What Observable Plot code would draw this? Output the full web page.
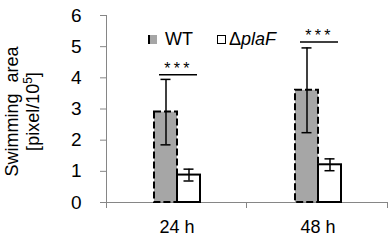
<!DOCTYPE html>
<html><head><meta charset="utf-8">
<script src="https://cdn.jsdelivr.net/npm/d3@7"></script>
<script src="https://cdn.jsdelivr.net/npm/@observablehq/plot@0.6"></script>
<style>
body{margin:0;background:#fff;font-family:"Liberation Sans",Arial,sans-serif;color:#000;}
#wrap{position:relative;width:392px;height:240px;overflow:hidden;}
#wrap svg{position:absolute;left:0;top:0;}
.leg{position:absolute;font-size:18px;line-height:18px;white-space:nowrap;}
.sw{position:absolute;box-sizing:border-box;}
</style></head><body>
<div id="wrap"></div>
<script>
const times = ["24 h", "48 h"];
const strains = ["WT", "ΔplaF"];
const wtMeans = [2.9, 3.6];
const wtErrors = [1.05, 1.36];
const plaFMeans = [0.88, 1.21];
const plaFErrors = [0.19, 0.19];
const sigLevels = [4.1, 5.15];
const sigLabels = ["***", "***"];
const yTicks = [0, 1, 2, 3, 4, 5, 6];

const rows = [];
times.forEach((t, i) => {
  rows.push({time: t, strain: strains[0], mean: wtMeans[i], err: wtErrors[i]});
  rows.push({time: t, strain: strains[1], mean: plaFMeans[i], err: plaFErrors[i]});
});
const sigRows = times.map((t, i) => ({time: t, level: sigLevels[i], label: sigLabels[i]}));
const wtRows = rows.filter(d => d.strain === strains[0]);
const kRows = rows.filter(d => d.strain === strains[1]);

const axisGray = "#868686";

const chart = Plot.plot({
  width: 392,
  height: 240,
  marginTop: 15,
  marginBottom: 38,
  marginLeft: 105,
  marginRight: 4,
  style: {fontFamily: "Liberation Sans, Arial, sans-serif", fontSize: "18px", color: "#000", background: "transparent"},
  fx: {domain: times, padding: 0, axis: "bottom", tickSize: 0, tickPadding: 18, label: null, fontSize: 20},
  x: {domain: strains, paddingInner: 0, paddingOuter: 2, axis: null},
  y: {domain: [0, 6], axis: null},
  marks: [
    Plot.ruleY([0], {stroke: axisGray, strokeWidth: 1}),
    Plot.axisY({ticks: yTicks, tickFormat: d3.format("d"), tickSize: 6, tickPadding: 19, stroke: axisGray, fill: "#000", fontSize: 19, label: null}),
    Plot.barY(wtRows, {fx: "time", x: "strain", y: "mean", fill: "#a6a6a6", stroke: "#000", strokeWidth: 2, strokeDasharray: "7,3"}),
    Plot.barY(kRows, {fx: "time", x: "strain", y: "mean", fill: "#fff", stroke: "#000", strokeWidth: 2}),
    Plot.ruleX(rows, {fx: "time", x: "strain", y1: d => d.mean - d.err, y2: d => d.mean + d.err, stroke: "#000", strokeWidth: 1.5}),
    Plot.tickY(rows, {fx: "time", x: "strain", y: d => d.mean - d.err, stroke: "#000", strokeWidth: 1.5, insetLeft: 6.5, insetRight: 6.5}),
    Plot.tickY(rows, {fx: "time", x: "strain", y: d => d.mean + d.err, stroke: "#000", strokeWidth: 1.5, insetLeft: 6.5, insetRight: 6.5}),
    Plot.ruleY(sigRows, {fx: "time", y: "level", x1: () => strains[0], x2: () => strains[1], insetLeft: 5, insetRight: 3, stroke: "#000", strokeWidth: 1.5}),
    Plot.text(sigRows, {fx: "time", y: "level", text: "label", fontSize: 16, dy: -6, dx: 1.5, fill: "#000", className: "stars"})
  ]
});

const wrap = document.getElementById("wrap");
wrap.appendChild(chart);

// axis lines and category-boundary ticks (Excel style) using Plot's scales
const fxs = chart.scale("fx");
const ys = chart.scale("y");
const svg = d3.select(chart);
const y0 = ys.apply(0);
const left = fxs.apply(times[0]);
const edges = times.map(t => fxs.apply(t) + fxs.bandwidth);
const g = svg.append("g").attr("stroke", axisGray).attr("stroke-width", 1);
g.append("line").attr("x1", left + 0.5).attr("x2", left + 0.5).attr("y1", ys.apply(6)).attr("y2", y0 + 6);
edges.forEach(x => {
  g.append("line").attr("x1", x - 0.5).attr("x2", x - 0.5).attr("y1", y0).attr("y2", y0 + 6);
});
svg.selectAll(".stars text").style("letter-spacing", "3.2px");

// y title (two lines, rotated), centred on the y range
const yMid = (ys.apply(0) + ys.apply(6)) / 2 + 3;
const tg = svg.append("g").attr("font-size", 18).attr("fill", "#000").attr("text-anchor", "middle");
const t1 = tg.append("text").attr("transform", `translate(18,${yMid}) rotate(-90)`).style("word-spacing", "6px");
t1.text("Swimming area");
const t2 = tg.append("text").attr("transform", `translate(39,${yMid}) rotate(-90)`);
t2.append("tspan").text("[pixel/10");
t2.append("tspan").attr("font-size", 12).attr("dy", -7).text("5");
t2.append("tspan").attr("dy", 7).text("]");

// legend
const legend = [
  {label: "WT", sx: 148, sy: 35, tx: 165, dashed: true},
  {label: "Δ<i>plaF</i>", sx: 217, sy: 35, tx: 229, dashed: false}
];
legend.forEach(l => {
  const sw = document.createElement("div");
  sw.className = "sw";
  sw.style.left = l.sx + "px";
  sw.style.top = l.sy + "px";
  sw.style.width = "9px";
  sw.style.height = "9px";
  if (l.dashed) {
    sw.style.background = "#a6a6a6";
    sw.style.borderLeft = "2px dashed #000";
  } else {
    sw.style.background = "#fff";
    sw.style.border = "1.5px solid #000";
  }
  wrap.appendChild(sw);
  const t = document.createElement("div");
  t.className = "leg";
  t.style.left = l.tx + "px";
  t.style.top = "30px";
  t.innerHTML = l.label;
  wrap.appendChild(t);
});
</script>
</body></html>
